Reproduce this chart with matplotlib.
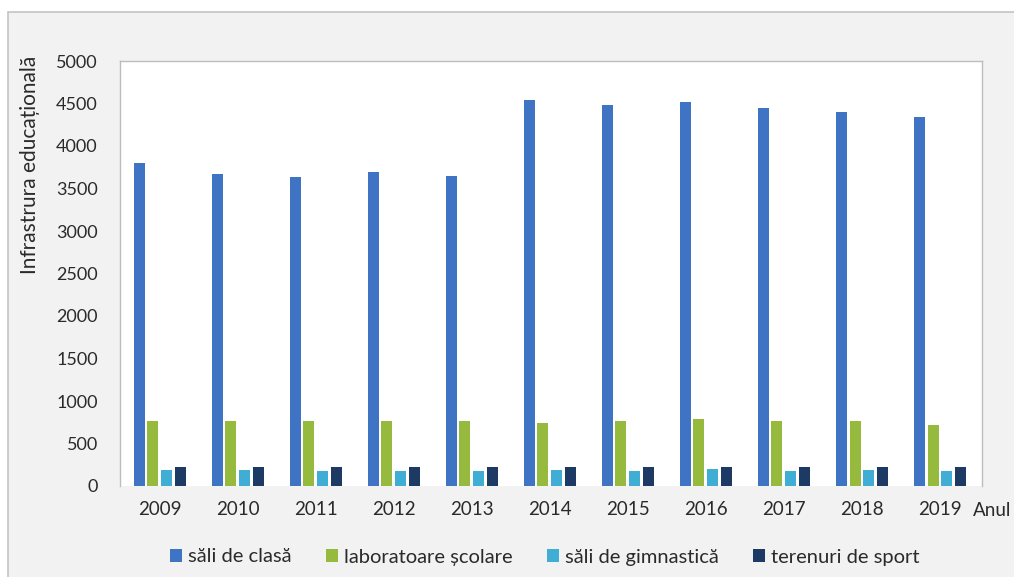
import numpy as np
import matplotlib
matplotlib.use("Agg")
import matplotlib.pyplot as plt
from matplotlib.patches import Rectangle

plt.rcParams['font.family'] = ['Lato', 'DejaVu Sans']

years = ['2009', '2010', '2011', '2012', '2013', '2014', '2015', '2016', '2017', '2018', '2019']
sali_clasa = [3800, 3670, 3630, 3700, 3650, 4540, 4480, 4520, 4450, 4400, 4340]
laboratoare = [770, 765, 760, 765, 760, 740, 760, 785, 760, 760, 720]
sali_gimnastica = [190, 190, 180, 180, 180, 185, 180, 200, 180, 190, 180]
terenuri = [220, 220, 220, 220, 225, 220, 220, 225, 220, 220, 220]

series = [sali_clasa, laboratoare, sali_gimnastica, terenuri]
labels = ['săli de clasă', 'laboratoare școlare', 'săli de gimnastică', 'terenuri de sport']
colors = ['#3f74c4', '#96ba3e', '#3fadd4', '#1c3a64']
txt = '#2a2a2a'

fig = plt.figure(figsize=(10.14, 5.77), dpi=100, facecolor='white')
fig.patches.append(Rectangle((8 / 1014, -0.01), 1.0, 1 - 12 / 577 + 0.01,
                             transform=fig.transFigure, facecolor='#f2f2f2',
                             edgecolor='#c4c4c4', linewidth=1.2, zorder=-5))

ax = fig.add_axes([120 / 1014, 1 - 486 / 577, 862 / 1014, 425 / 577])
ax.set_facecolor('white')

x = np.arange(len(years))
slot = 0.176
width = 0.141
for i, (vals, lab, col) in enumerate(zip(series, labels, colors)):
    ax.bar(x + (i - 1.5) * slot, vals, width, color=col, label=lab, zorder=2)

ax.set_xlim(-0.51, 10.54)
ax.set_ylim(0, 5000)
ax.set_yticks(range(0, 5001, 500))
ax.set_xticks(x)
ax.set_xticklabels(years)
ax.tick_params(axis='both', length=0, colors=txt)
ax.tick_params(axis='x', pad=11, labelsize=13.5)
ax.tick_params(axis='y', pad=16, labelsize=13)

for side in ['left', 'top', 'right']:
    ax.spines[side].set_color('#bdbdbd')
    ax.spines[side].set_linewidth(1.0)
ax.spines['bottom'].set_visible(False)

fig.text(30 / 1014, 1 - 165 / 577, 'Infrastrura educațională', rotation=90,
         ha='center', va='center', fontsize=15, color=txt)
fig.text(1011 / 1014, 1 - 510 / 577, 'Anul', ha='right', va='center',
         fontsize=13.5, color=txt)

fig.legend(loc='center', bbox_to_anchor=(545 / 1014, 1 - 557 / 577), ncol=4,
           frameon=False, fontsize=14.5, handlelength=0.6, handleheight=0.6,
           handletextpad=0.3, columnspacing=1.7, labelcolor=txt)

fig.savefig('out.png', dpi=100, facecolor=fig.get_facecolor())
